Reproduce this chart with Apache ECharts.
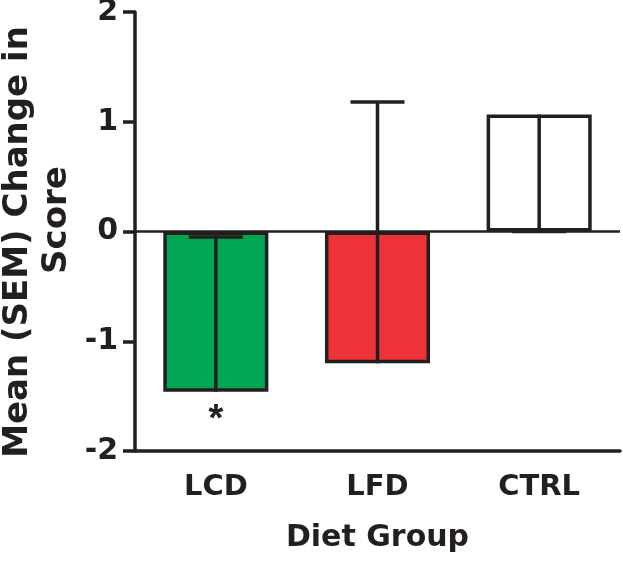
<!DOCTYPE html>
<html>
<head>
<meta charset="utf-8">
<script src="https://cdn.jsdelivr.net/npm/echarts@6/dist/echarts.min.js"></script>
<style>
html,body{margin:0;padding:0;background:#fff;}
#chart{width:623px;height:564px;}
</style>
</head>
<body>
<div id="chart"></div>
<script>
const categories = ['LCD', 'LFD', 'CTRL'];
const means = [-1.46, -1.2, 1.065];
const errorEnds = [-0.05, 1.18, 0];
const barColors = ['#00A651', '#EE3338', '#FFFFFF'];
const sigLabels = ['*', '', ''];
const sigY = [-1.72, null, null];
const yTicks = [-2, -1, 0, 1, 2];
const yTitleLines = ['Mean (SEM) Change in', 'Score'];
const xTitle = 'Diet Group';

const FONT = 'DejaVu Sans';
const INK = '#231F20';
const chart = echarts.init(document.getElementById('chart'));

const barData = means.map((v, i) => ({ value: v, itemStyle: { color: barColors[i] } }));
const errData = means.map((v, i) => [i, v, errorEnds[i]]);
const sigData = sigY.map((v, i) => (v === null ? null : { value: [i, v], label: { formatter: sigLabels[i] } })).filter(d => d);

chart.setOption({
  animation: false,
  grid: { left: 135, right: 3, top: 12, bottom: 113, containLabel: false, outerBoundsMode: 'none' },
  graphic: [
    { type: 'text', x: 18, y: 242, rotation: Math.PI / 2,
      style: { text: yTitleLines[0], fill: INK, font: 'bold 34px "DejaVu Sans"', textAlign: 'center', textVerticalAlign: 'middle' } },
    { type: 'text', x: 57, y: 220, rotation: Math.PI / 2,
      style: { text: yTitleLines[1], fill: INK, font: 'bold 34px "DejaVu Sans"', textAlign: 'center', textVerticalAlign: 'middle' } }
  ],
  xAxis: {
    type: 'category',
    data: categories,
    axisLine: { onZero: false, lineStyle: { color: INK, width: 3.5 } },
    axisTick: { alignWithLabel: true, length: 12, lineStyle: { color: INK, width: 3.5 } },
    axisLabel: { color: INK, fontFamily: FONT, fontWeight: 'bold', fontSize: 29, margin: 22 },
    name: xTitle,
    nameLocation: 'middle',
    nameGap: 72,
    nameTextStyle: { color: INK, fontFamily: FONT, fontWeight: 'bold', fontSize: 30 }
  },
  yAxis: {
    type: 'value',
    min: yTicks[0],
    max: yTicks[yTicks.length - 1],
    interval: 1,
    splitLine: { show: false },
    axisLine: { show: true, lineStyle: { color: INK, width: 3.5 } },
    axisTick: { show: true, length: 12, lineStyle: { color: INK, width: 3.5 } },
    axisLabel: { color: INK, fontFamily: FONT, fontWeight: 'bold', fontSize: 30, margin: 17 }
  },
  series: [
    {
      type: 'bar',
      data: barData,
      barWidth: '65%',
      itemStyle: { borderColor: INK, borderWidth: 3.5 },
      markLine: {
        silent: true,
        symbol: 'none',
        label: { show: false },
        lineStyle: { color: INK, width: 2.5, type: 'solid' },
        data: [{ yAxis: 0 }]
      },
      z: 2
    },
    {
      type: 'custom',
      data: errData,
      encode: { x: 0, y: [1, 2] },
      z: 5,
      renderItem: function (params, api) {
        const x = api.value(0);
        const p0 = api.coord([x, api.value(1)]);
        const p1 = api.coord([x, api.value(2)]);
        const half = 27;
        const style = { stroke: INK, lineWidth: 3.5 };
        return {
          type: 'group',
          children: [
            { type: 'line', shape: { x1: p0[0], y1: p0[1], x2: p1[0], y2: p1[1] }, style: style },
            { type: 'line', shape: { x1: p1[0] - half, y1: p1[1], x2: p1[0] + half, y2: p1[1] }, style: style }
          ]
        };
      }
    },
    {
      type: 'scatter',
      data: sigData,
      symbolSize: 0,
      itemStyle: { opacity: 1 },
      label: { show: true, position: 'inside', color: INK, fontFamily: 'Liberation Sans', fontWeight: 'bold', fontSize: 38 },
      z: 6
    }
  ]
});
</script>
</body>
</html>
